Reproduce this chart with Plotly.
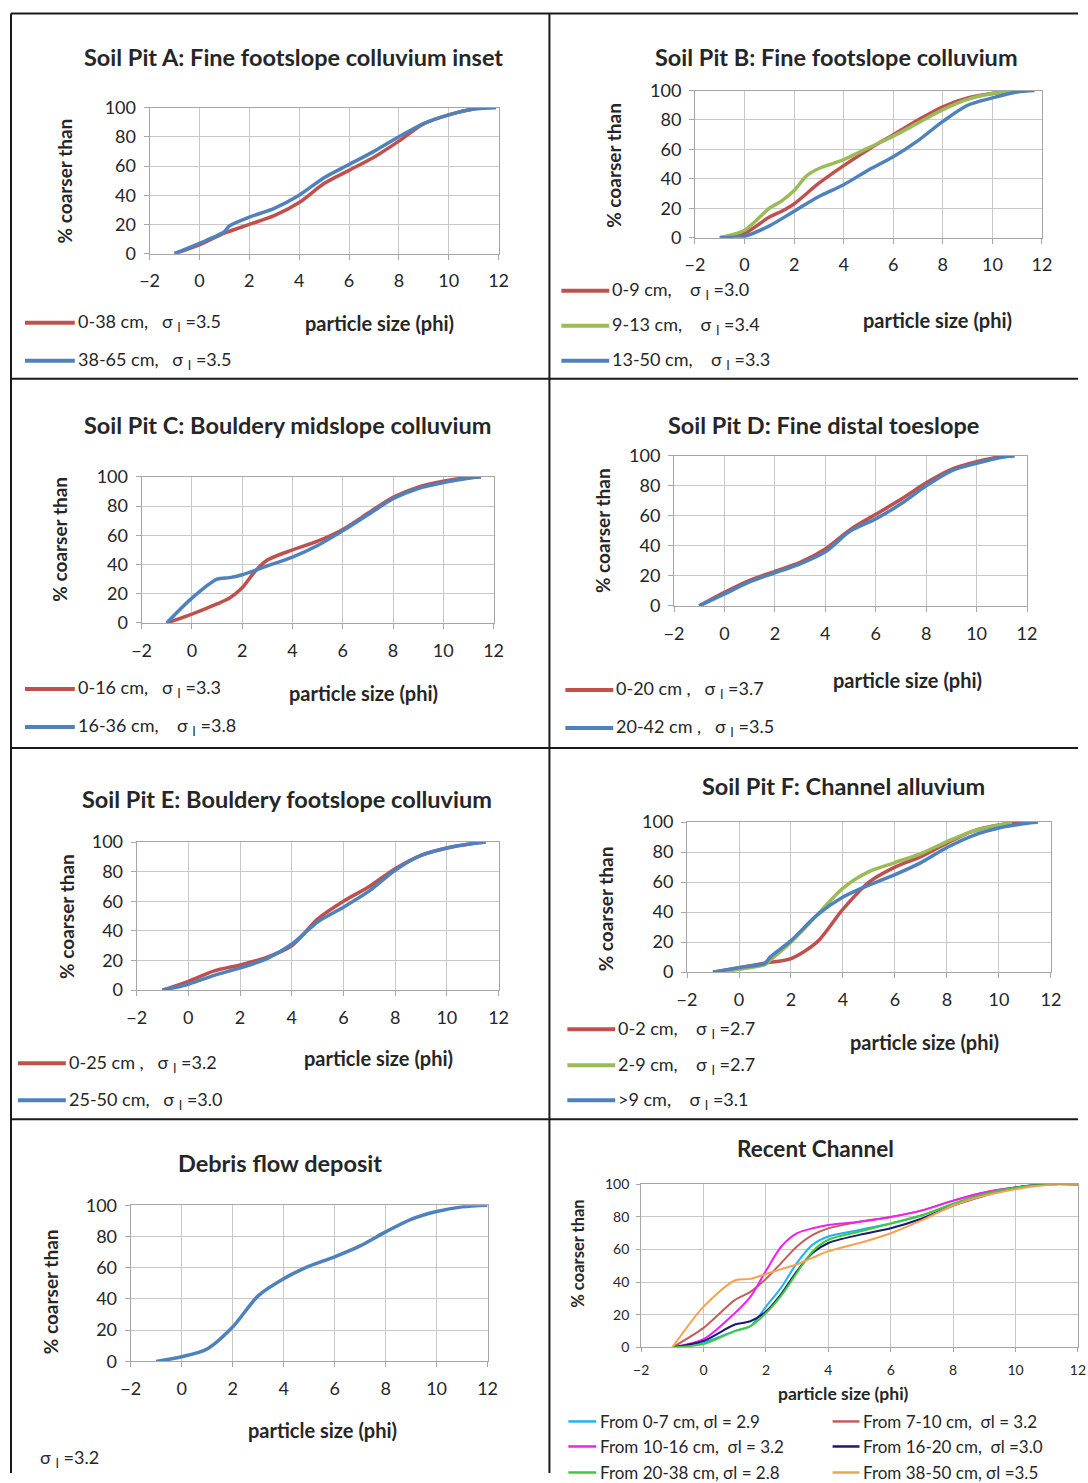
import plotly.graph_objects as go

W, H = 1088, 1483
FONT = "Lato"
RED, GREEN, BLUE = "#C0504D", "#9BBB59", "#4F81BD"

# ---------------- data ----------------
phi_A_red = [-1, 0, 1, 2, 3, 4, 5, 6, 7, 8, 9, 10, 11, 11.9]
pct_A_red = [0, 6, 14, 20, 26, 35, 48, 57, 66, 77, 89, 95, 99, 100]
phi_A_blue = [-1, 0, 1, 1.2, 2, 3, 4, 5, 6, 7, 8, 9, 10, 11, 11.9]
pct_A_blue = [0, 7, 15, 19, 25, 31, 40, 52, 61, 70, 80, 89, 95, 99, 100]

phi_B_red = [-1, 0, 1, 1.5, 2, 3, 4, 5, 6, 7, 8, 9, 10, 11]
pct_B_red = [0, 3, 14, 18, 23, 37, 49, 60, 70, 80, 89, 95, 98, 100]
phi_B_green = [-1, 0, 1, 1.5, 2, 2.5, 3, 4, 5, 6, 7, 8, 9, 10, 11]
pct_B_green = [0, 5, 20, 25, 32, 42, 47, 53, 61, 69, 78, 87, 94, 98, 100]
phi_B_blue = [-1, 0, 1, 2, 3, 4, 5, 6, 7, 8, 9, 10, 11, 11.7]
pct_B_blue = [0, 1, 8, 18, 28, 36, 46, 55, 66, 79, 90, 95, 99, 100]

phi_C_red = [-1, 0, 1, 1.5, 2, 2.5, 3, 4, 5, 6, 7, 8, 9, 10, 11, 11.5]
pct_C_red = [0, 6, 13, 17, 24, 35, 43, 50, 56, 64, 75, 86, 93, 97, 99.5, 100]
phi_C_blue = [-1, 0, 1, 1.5, 2, 3, 4, 5, 6, 7, 8, 9, 10, 11, 11.5]
pct_C_blue = [0, 17, 30, 31, 33, 39, 45, 53, 63, 74, 85, 92, 96, 99, 100]

phi_D = [-1, 0, 1, 2, 3, 4, 5, 6, 7, 8, 9, 10, 11, 11.5]
pct_D_red = [0, 9, 17, 23, 29, 38, 51, 61, 71, 82, 91, 96, 99.5, 100]
pct_D_blue = [0, 8, 16, 22, 28, 36, 50, 58, 68, 80, 90, 95, 99, 100]

phi_E = [-1, 0, 1, 2, 3, 4, 5, 6, 7, 8, 9, 10, 11, 11.5]
pct_E_red = [0, 6, 13, 17, 22, 30, 48, 60, 70, 82, 91, 96, 99, 100]
pct_E_blue = [0, 4, 10, 15, 21, 31, 46, 56, 67, 81, 91, 96, 99, 100]

phi_F_red = [-1, 0, 1, 2, 3, 4, 5, 6, 7, 8, 9, 10, 11]
pct_F_red = [0, 3, 6, 9, 20, 42, 60, 70, 77, 86, 94, 98, 100]
phi_F_green = [-1, 0, 1, 1.2, 2, 3, 4, 5, 6, 7, 8, 9, 10, 10.5]
pct_F_green = [0, 2, 5, 8, 20, 38, 56, 67, 73, 79, 87, 94, 98, 100]
phi_F_blue = [-1, 0, 1, 1.2, 2, 3, 4, 5, 6, 7, 8, 9, 10, 11, 11.5]
pct_F_blue = [0, 3, 6, 10, 21, 38, 50, 58, 65, 73, 83, 91, 96, 99, 100]

phi_G = [-1, 0, 1, 2, 3, 4, 5, 6, 7, 8, 9, 10, 11, 12]
pct_G = [0, 3, 8, 22, 42, 53, 61, 67, 74, 83, 91, 96, 99, 100]

phi_H = [-1, 0, 1, 1.5, 2, 2.5, 3, 3.5, 4, 5, 6, 7, 8, 9, 10, 11, 12]
pct_H_0_7 = [0, 3, 10, 13, 25, 37, 52, 63, 68, 72, 76, 81, 88, 94, 98, 100, 100]
pct_H_7_10 = [0, 12, 29, 34, 42, 52, 62, 69, 73, 77, 80, 84, 90, 95, 98, 100, 100]
pct_H_10_16 = [0, 5, 21, 31, 47, 62, 70, 73, 75, 77, 80, 84, 90, 95, 98, 100, 100]
pct_H_16_20 = [0, 4, 14, 16, 22, 33, 47, 58, 64, 69, 73, 79, 87, 93, 98, 100, 100]
pct_H_20_38 = [0, 2, 10, 13, 21, 32, 46, 59, 66, 71, 76, 81, 88, 94, 98, 100, 100]
pct_H_38_50 = [0, 25, 41, 42, 45, 48, 51, 55, 59, 64, 70, 78, 87, 93, 97, 99.5, 100]

x_ticks = [-2, 0, 2, 4, 6, 8, 10, 12]
y_ticks = [0, 20, 40, 60, 80, 100]

SIG = "σ <sub>I</sub>"
S3 = "&nbsp;&nbsp;&nbsp;"
S4 = "&nbsp;&nbsp;&nbsp;&nbsp;"

panels = [
    dict(title="Soil Pit A: Fine footslope colluvium inset",
         plot=(150, 500, 107, 253), tpos=(294, 56), xt=(381, 322), yt=(65, 180),
         series=[(phi_A_red, pct_A_red, RED), (phi_A_blue, pct_A_blue, BLUE)],
         leg=dict(x0=25, x1=75, rows=[322, 360], labels=[f"0-38 cm,{S3}{SIG} =3.5", f"38-65 cm,{S3}{SIG} =3.5"])),
    dict(title="Soil Pit B: Fine footslope colluvium",
         plot=(697, 1045, 90, 237), tpos=(839, 56), xt=(940, 319), yt=(615, 165),
         series=[(phi_B_red, pct_B_red, RED), (phi_B_green, pct_B_green, GREEN), (phi_B_blue, pct_B_blue, BLUE)],
         leg=dict(x0=563, x1=611, rows=[290, 325, 360],
                  labels=[f"0-9 cm,{S4}{SIG} =3.0", f"9-13 cm,{S4}{SIG} =3.4", f"13-50 cm,{S4}{SIG} =3.3"])),
    dict(title="Soil Pit C: Bouldery midslope colluvium",
         plot=(142, 495, 476, 622), tpos=(288, 424), xt=(365, 692), yt=(60, 538),
         series=[(phi_C_red, pct_C_red, RED), (phi_C_blue, pct_C_blue, BLUE)],
         leg=dict(x0=25, x1=75, rows=[688, 726], labels=[f"0-16 cm,{S3}{SIG} =3.3", f"16-36 cm,{S4}{SIG} =3.8"])),
    dict(title="Soil Pit D: Fine distal toeslope",
         plot=(676, 1030, 455, 605), tpos=(826, 424), xt=(910, 679), yt=(605, 530),
         series=[(phi_D, pct_D_red, RED), (phi_D, pct_D_blue, BLUE)],
         leg=dict(x0=567, x1=615, rows=[689, 727], labels=[f"0-20 cm ,{S3}{SIG} =3.7", f"20-42 cm ,{S3}{SIG} =3.5"])),
    dict(title="Soil Pit E: Bouldery footslope colluvium",
         plot=(137, 500, 841, 989), tpos=(288, 798), xt=(380, 1057), yt=(66, 915),
         series=[(phi_E, pct_E_red, RED), (phi_E, pct_E_blue, BLUE)],
         leg=dict(x0=18, x1=66, rows=[1062, 1099], labels=[f"0-25 cm ,{S3}{SIG} =3.2", f"25-50 cm,{S3}{SIG} =3.0"])),
    dict(title="Soil Pit F: Channel alluvium",
         plot=(689, 1054, 821, 971), tpos=(846, 785), xt=(927, 1041), yt=(607, 908),
         series=[(phi_F_red, pct_F_red, RED), (phi_F_green, pct_F_green, GREEN), (phi_F_blue, pct_F_blue, BLUE)],
         leg=dict(x0=569, x1=617, rows=[1028, 1064, 1099],
                  labels=[f"0-2 cm,{S4}{SIG} =2.7", f"2-9 cm,{S4}{SIG} =2.7", f"&gt;9 cm,{S4}{SIG} =3.1"])),
    dict(title="Debris flow deposit",
         plot=(131, 489, 1204, 1360), tpos=(281, 1162), xt=(323, 1429), yt=(50, 1290),
         series=[(phi_G, pct_G, BLUE)], leg=None),
]

h_series = [
    (pct_H_0_7, "#1FB4F0", "From 0-7 cm, σl = 2.9"),
    (pct_H_7_10, "#C0605A", "From 7-10 cm,  σl = 3.2"),
    (pct_H_10_16, "#F020F0", "From 10-16 cm,  σl = 3.2"),
    (pct_H_16_20, "#1A1A6E", "From 16-20 cm,  σl =3.0"),
    (pct_H_20_38, "#40C840", "From 20-38 cm, σl = 2.8"),
    (pct_H_38_50, "#F7A050", "From 38-50 cm, σl =3.5"),
]

# the photographed page comes out slightly scaled and offset; compensate
SC, OX, OY = 0.9845, 10.0, 11.5


def fx(x):
    return min(max(((x - OX) / SC) / W, 0.0), 1.0)


def fy(y):
    return min(max(1 - ((y - OY) / SC) / H, 0.0), 1.0)


fig = go.Figure()
layout = dict(width=W, height=H, margin=dict(l=0, r=0, t=0, b=0),
              paper_bgcolor="white", plot_bgcolor="white", showlegend=False,
              font=dict(family=FONT, color="#262626"))
annotations, shapes = [], []


def add_axes(i, plot, tickfont, ticklen=5):
    l, r, t, b = plot
    sx = "" if i == 1 else str(i)
    common = dict(showgrid=True, gridcolor="#C8C8C8", gridwidth=1, zeroline=False,
                  showline=True, linecolor="#A6A6A6", linewidth=1, mirror=True,
                  ticks="outside", ticklen=ticklen, tickcolor="#A6A6A6",
                  tickfont=dict(family=FONT, size=tickfont, color="#262626"), fixedrange=True)
    layout["xaxis" + sx] = dict(common, domain=[fx(l), fx(r)], range=[-2, 12], tickvals=x_ticks,
                                anchor="y" + sx, ticklabelstandoff=6)
    layout["yaxis" + sx] = dict(common, domain=[fy(b), fy(t)], range=[0, 100], tickvals=y_ticks,
                                anchor="x" + sx, ticklabelstandoff=4)
    return "x" + sx, "y" + sx


def ann(x, y, text, size, anchor="center", angle=0):
    annotations.append(dict(x=fx(x), y=fy(y), xref="paper", yref="paper", text=text,
                            showarrow=False, xanchor=anchor, yanchor="middle", textangle=angle,
                            font=dict(size=size, family=FONT, color="#262626")))


for i, p in enumerate(panels, start=1):
    xa, ya = add_axes(i, p["plot"], 18)
    for xs, ys, col in p["series"]:
        fig.add_trace(go.Scatter(x=xs, y=ys, mode="lines", xaxis=xa, yaxis=ya,
                                 line=dict(color=col, width=3.5, shape="spline", smoothing=0.8),
                                 hoverinfo="skip"))
    ann(p["tpos"][0], p["tpos"][1], f"<b>{p['title']}</b>", 23.5)
    ann(p["xt"][0], p["xt"][1], "<b>particle size (phi)</b>", 20)
    ann(p["yt"][0], p["yt"][1], "<b>% coarser than</b>", 19, angle=-90)
    lg = p["leg"]
    if lg:
        for (xs, ys, col), row, lab in zip(p["series"], lg["rows"], lg["labels"]):
            shapes.append(dict(type="line", xref="paper", yref="paper", x0=fx(lg["x0"]), x1=fx(lg["x1"]),
                               y0=fy(row), y1=fy(row), line=dict(color=col, width=4)))
            ann(lg["x1"] + 1, row, lab, 18, anchor="left")

# sigma note for debris flow panel
ann(38, 1457, f"{SIG} =3.2", 18, anchor="left")

# Recent Channel panel
i = len(panels) + 1
xa, ya = add_axes(i, (643, 1082, 1183, 1346), 14, ticklen=4)
for ys, col, lab in h_series:
    fig.add_trace(go.Scatter(x=phi_H, y=ys, mode="lines", xaxis=xa, yaxis=ya,
                             line=dict(color=col, width=2, shape="spline", smoothing=0.8),
                             hoverinfo="skip"))
ann(818, 1147, "<b>Recent Channel</b>", 22.5)
ann(846, 1392, "<b>particle size (phi)</b>", 17.5)
ann(580, 1252, "<b>% coarser than</b>", 16.5, angle=-90)
cols_x = [(570, 598), (835, 862)]
rows_y = [1420, 1445, 1471]
for k, (ys, col, lab) in enumerate(h_series):
    cx0, cx1 = cols_x[k % 2]
    ry = rows_y[k // 2]
    shapes.append(dict(type="line", xref="paper", yref="paper", x0=fx(cx0), x1=fx(cx1),
                       y0=fy(ry), y1=fy(ry), line=dict(color=col, width=2.5)))
    ann(cx1 + 2, ry, lab, 17, anchor="left")

# panel frame lines
frame = dict(color="#1A1A1A", width=2)
L, T = 11.0, 13.0
for (x0, y0, x1, y1) in [(L, T, 1100, T), (L, T, L, 1500), (551, T, 551, 1500),
                         (L, 378, 1100, 378), (L, 747, 1100, 747), (L, 1118, 1100, 1118)]:
    shapes.append(dict(type="line", xref="paper", yref="paper", x0=fx(x0), x1=fx(x1),
                       y0=fy(y0), y1=fy(y1), line=frame))

layout["annotations"] = annotations
layout["shapes"] = shapes
fig.update_layout(**layout)
fig.write_html("out.html", config={"displayModeBar": False},
               post_script="document.body.style.margin='0';document.body.style.overflow='hidden';")
